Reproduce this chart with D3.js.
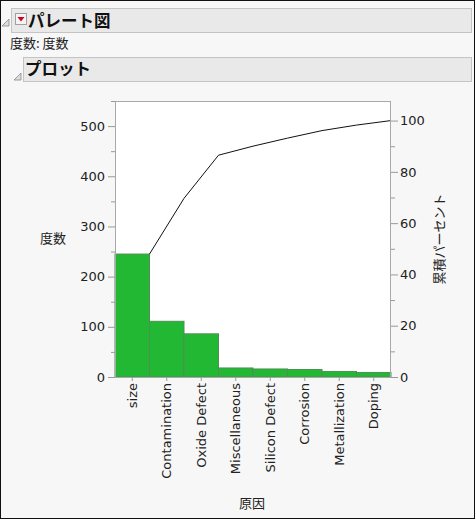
<!DOCTYPE html>
<html>
<head>
<meta charset="utf-8">
<script src="https://cdn.jsdelivr.net/npm/d3@7"></script>
<style>
  body { margin: 0; background: #f7f7f7; }
  text { font-family: "DejaVu Sans", sans-serif; }
  .cjk { font-family: "Noto Sans CJK JP", sans-serif; }
</style>
</head>
<body>
<script>
// data
const causes = ["size", "Contamination", "Oxide Defect", "Miscellaneous", "Silicon Defect", "Corrosion", "Metallization", "Doping"];
const counts = [245, 111, 86, 18, 16, 15, 11, 9];
const countTicks = [0, 100, 200, 300, 400, 500];
const countMinor = [50, 150, 250, 350, 450, 550];
const pctTicks = [0, 20, 40, 60, 80, 100];
const pctMinor = [10, 30, 50, 70, 90];

const W = 475, H = 519;
const plot = { left: 115, right: 391, top: 101, bottom: 377 };

const svg = d3.select('body').append('svg')
    .attr('width', W)
    .attr('height', H);

// window background + border
svg.append('rect')
    .attr('x', 0.5).attr('y', 0.5)
    .attr('width', W - 1).attr('height', H - 1)
    .attr('fill', '#f7f7f7')
    .attr('stroke', '#111');

// outline headers (JMP style)
function header(x, y, w, h, label, tx, ty) {
    svg.append('rect')
        .attr('x', x + 0.5).attr('y', y + 0.5)
        .attr('width', w).attr('height', h)
        .attr('fill', '#e9e9e9')
        .attr('stroke', '#c4c4c4');
    svg.append('text')
        .attr('class', 'cjk')
        .attr('x', tx).attr('y', ty)
        .style('font-weight', 'bold')
        .style('font-size', '16.5px')
        .attr('fill', '#111')
        .text(label);
}
function disclosure(x, y) {
    svg.append('path')
        .attr('d', `M${x + 7},${y} L${x + 7},${y + 7} L${x},${y + 7} Z`)
        .attr('fill', '#ddd')
        .attr('stroke', '#888')
        .attr('stroke-width', 0.8);
}

header(11, 8, 460, 24, 'パレート図', 28, 27);
disclosure(2, 19);
// red popup icon
svg.append('rect')
    .attr('x', 15.5).attr('y', 13.5)
    .attr('width', 11).attr('height', 11)
    .attr('fill', '#f4f4f4')
    .attr('stroke', '#a0a0a0');
svg.append('path')
    .attr('d', 'M17.5,17 L24.5,17 L21,21.5 Z')
    .attr('fill', '#d0021b');

svg.append('text')
    .attr('class', 'cjk')
    .attr('x', 10).attr('y', 48)
    .style('font-size', '13px')
    .attr('fill', '#222')
    .text('度数: 度数');

header(23, 57, 448, 24, 'プロット', 25, 75);
disclosure(14, 73);

// Scales
const total = d3.sum(counts);
const xScale = d3.scaleBand()
    .domain(causes)
    .range([plot.left, plot.right])
    .padding(0);

const yScale = d3.scaleLinear()
    .domain([0, 550])
    .range([plot.bottom, plot.top]);

const pctScale = d3.scaleLinear()
    .domain([0, 550 / total * 100])
    .range([plot.bottom, plot.top]);

// plot background
svg.append('rect')
    .attr('x', plot.left).attr('y', plot.top)
    .attr('width', plot.right - plot.left)
    .attr('height', plot.bottom - plot.top)
    .attr('fill', '#fff');

// Bars
svg.selectAll('.bar')
    .data(causes)
    .enter()
    .append('rect')
    .attr('class', 'bar')
    .attr('x', d => xScale(d))
    .attr('y', (d, i) => yScale(counts[i]))
    .attr('width', xScale.bandwidth())
    .attr('height', (d, i) => yScale(0) - yScale(counts[i]))
    .attr('fill', '#23b833')
    .attr('stroke', '#4f8f55')
    .attr('stroke-width', 1);

// cumulative percent line, points at the right edge of each bar
let run = 0;
const cum = counts.map(c => (run += c) / total * 100);
const line = d3.line()
    .x((d, i) => xScale(causes[i]) + xScale.bandwidth())
    .y(d => pctScale(d));

svg.append('path')
    .datum(cum)
    .attr('d', line)
    .attr('fill', 'none')
    .attr('stroke', '#111')
    .attr('stroke-width', 1);

// frame
svg.append('rect')
    .attr('x', plot.left + 0.5).attr('y', plot.top + 0.5)
    .attr('width', plot.right - plot.left - 1)
    .attr('height', plot.bottom - plot.top)
    .attr('fill', 'none')
    .attr('stroke', '#a8a8a8');

function styleAxis(g) {
    g.select('.domain').remove();
    g.selectAll('line').attr('stroke', '#9a9a9a');
    g.selectAll('text')
        .style('font-size', '13px')
        .attr('fill', '#222');
}

// Left axis
svg.append('g')
    .attr('transform', `translate(${plot.left}, 0)`)
    .call(d3.axisLeft(yScale).tickValues(countTicks).tickSize(7).tickPadding(3))
    .call(styleAxis);
svg.append('g')
    .attr('transform', `translate(${plot.left}, 0)`)
    .call(d3.axisLeft(yScale).tickValues(countMinor).tickSize(4).tickFormat(''))
    .call(styleAxis);

// Right axis
svg.append('g')
    .attr('transform', `translate(${plot.right}, 0)`)
    .call(d3.axisRight(pctScale).tickValues(pctTicks).tickSize(7).tickPadding(2))
    .call(styleAxis);
svg.append('g')
    .attr('transform', `translate(${plot.right}, 0)`)
    .call(d3.axisRight(pctScale).tickValues(pctMinor).tickSize(4).tickFormat(''))
    .call(styleAxis);

// Bottom axis, rotated labels
svg.append('g')
    .attr('transform', `translate(0, ${plot.bottom})`)
    .call(d3.axisBottom(xScale).tickSize(4).tickPadding(2))
    .call(styleAxis)
    .selectAll('text')
    .attr('transform', 'rotate(-90)')
    .attr('x', -6)
    .attr('y', 0)
    .attr('dy', '0.36em')
    .style('text-anchor', 'end');

// Axis labels
svg.append('text')
    .attr('class', 'cjk')
    .attr('x', 53).attr('y', 243)
    .style('font-size', '13px')
    .style('text-anchor', 'middle')
    .attr('fill', '#222')
    .text('度数');

svg.append('text')
    .attr('class', 'cjk')
    .attr('transform', 'translate(444, 239) rotate(-90)')
    .style('font-size', '13px')
    .style('text-anchor', 'middle')
    .attr('fill', '#222')
    .text('累積パーセント');

svg.append('text')
    .attr('class', 'cjk')
    .attr('x', 252).attr('y', 508)
    .style('font-size', '13px')
    .style('text-anchor', 'middle')
    .attr('fill', '#222')
    .text('原因');
</script>
</body>
</html>
